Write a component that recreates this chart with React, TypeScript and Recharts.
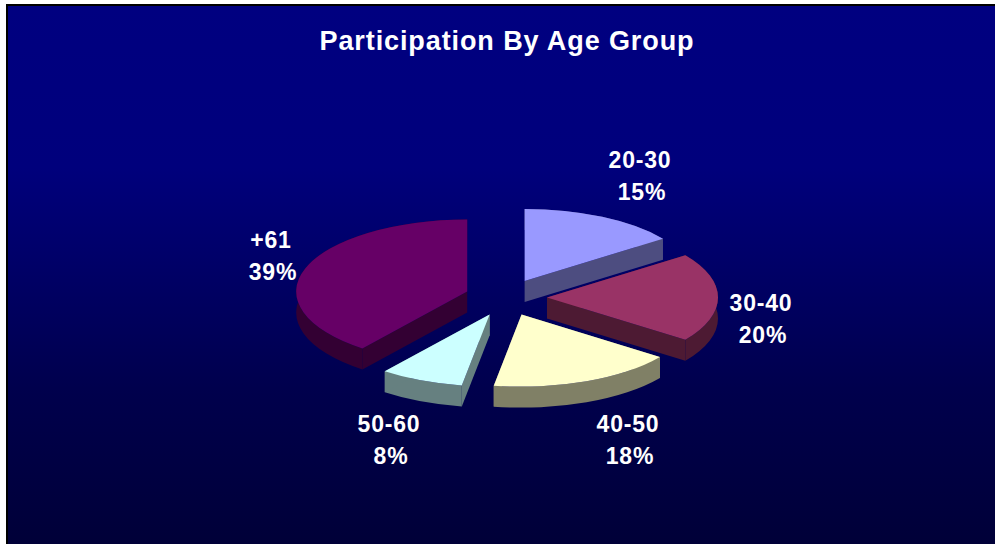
import { Pie, PieChart } from "recharts"

const ageGroups = ["20-30", "30-40", "40-50", "50-60", "+61"]
const shares = [15, 20, 17.6, 7.9, 39.5]
const percentLabels = ["15%", "20%", "18%", "8%", "39%"]
const topColors = ["#9999FF", "#993366", "#FFFFCC", "#CCFFFF", "#660066"]
const wallColors = ["#4D4D80", "#4D1A33", "#808066", "#668080", "#330033"]

const chartData = ageGroups.map((name, i) => ({
  name,
  value: shares[i],
  percent: percentLabels[i],
  fill: topColors[i],
  wall: wallColors[i],
}))

// label centres, the original placed these by hand
const labelCenters = [
  [640, 176],
  [761, 319],
  [628, 440],
  [389, 440],
  [271, 256],
]

const CX = 506
const CY = 297.5
const RX = 171
const SQUASH = 72 / 171
const DEPTH = 21
const EXPLODE_X = 41
const EXPLODE_Y = 18.5
const RAD = Math.PI / 180

function SliceShape(props: any) {
  const { cx, cy, outerRadius, startAngle, endAngle, fill, payload } = props
  const mid = ((startAngle + endAngle) / 2) * RAD
  const ox = cx + EXPLODE_X * Math.cos(mid)
  const oy = cy - EXPLODE_Y * Math.sin(mid)
  const rx = outerRadius
  const ry = outerRadius * SQUASH
  const x1 = ox + rx * Math.cos(startAngle * RAD)
  const y1 = oy - ry * Math.sin(startAngle * RAD)
  const x2 = ox + rx * Math.cos(endAngle * RAD)
  const y2 = oy - ry * Math.sin(endAngle * RAD)
  const large = Math.abs(startAngle - endAngle) > 180 ? 1 : 0
  const wall = payload?.wall ?? props.wall

  const rim = `M${x1},${y1} A${rx},${ry} 0 ${large} 1 ${x2},${y2} L${x2},${y2 + DEPTH} A${rx},${ry} 0 ${large} 0 ${x1},${y1 + DEPTH} Z`
  const cut1 = `M${ox},${oy} L${x1},${y1} L${x1},${y1 + DEPTH} L${ox},${oy + DEPTH} Z`
  const cut2 = `M${ox},${oy} L${x2},${y2} L${x2},${y2 + DEPTH} L${ox},${oy + DEPTH} Z`
  const top = `M${ox},${oy} L${x1},${y1} A${rx},${ry} 0 ${large} 1 ${x2},${y2} Z`

  return (
    <g>
      <path d={rim} fill={wall} />
      <path d={cut1} fill={wall} />
      <path d={cut2} fill={wall} />
      <path d={top} fill={fill} />
    </g>
  )
}

function SliceLabel(props: any) {
  const { index } = props
  const [x, y] = labelCenters[index]
  return (
    <text
      x={x}
      y={y}
      textAnchor="middle"
      fill="#FFFFFF"
      fontFamily="Liberation Sans"
      fontWeight="bold"
      fontSize={23}
      letterSpacing={0.8}
    >
      <tspan x={x} dy={-8}>{ageGroups[index]}</tspan>
      <tspan x={x + 2} dy={32}>{percentLabels[index]}</tspan>
    </text>
  )
}

export default function App() {
  return (
    <div
      style={{
        position: "absolute",
        left: 0,
        top: 0,
        width: 995,
        height: 544,
        background: "#FFFFFF",
        overflow: "hidden",
      }}
    >
      <div
        style={{
          position: "absolute",
          left: 6,
          top: 4,
          width: 989,
          height: 540,
          boxSizing: "border-box",
          borderLeft: "2px solid #000000",
          borderTop: "2px solid #000000",
          background: "linear-gradient(180deg, #000080 0%, #00007C 30%, #00004C 72%, #000038 100%)",
        }}
      />
      <PieChart
        width={995}
        height={544}
        style={{ position: "absolute", left: 0, top: 0 }}
        margin={{ top: 0, right: 0, bottom: 0, left: 0 }}
      >
        <text
          x={507}
          y={50}
          textAnchor="middle"
          fill="#FFFFFF"
          fontFamily="Liberation Sans"
          fontWeight="bold"
          fontSize={27}
          letterSpacing={0.9}
        >
          Participation By Age Group
        </text>
        <Pie
          data={chartData}
          dataKey="value"
          nameKey="name"
          cx={CX}
          cy={CY}
          innerRadius={0}
          outerRadius={RX}
          startAngle={90}
          endAngle={-270}
          paddingAngle={0}
          stroke="none"
          isAnimationActive={false}
          shape={SliceShape}
          label={SliceLabel}
          labelLine={false}
        />
      </PieChart>
    </div>
  )
}
